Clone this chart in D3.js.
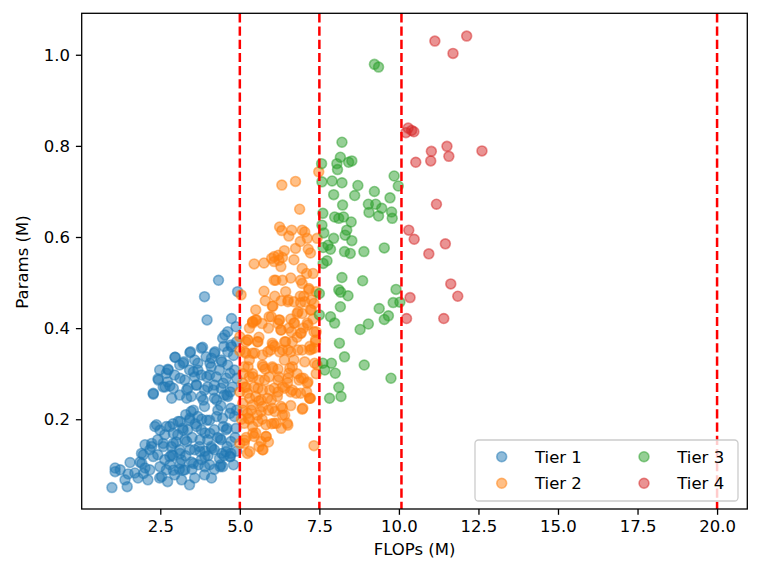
<!DOCTYPE html>
<html>
<head>
  <meta charset="utf-8">
  <script src="https://d3js.org/d3.v7.min.js"></script>
  <style>
    body { margin: 0; background: #FFFFFF; }
    text { font-family: "DejaVu Sans", sans-serif; }
  </style>
</head>
<body>
  <svg id="tiers" width="761" height="580" style="background: #FFFFFF;"></svg>

  <script>
    // [FLOPs (M), Params (M)]
    const tier1 = [
      [4.33,0.505],[3.89,0.469],[4.93,0.480],[3.97,0.418],[4.74,0.421],[4.88,0.403],[4.62,0.392],
      [4.46,0.378],[4.72,0.363],[3.79,0.356],[3.45,0.348],[4.20,0.345],[4.62,0.348],[3.94,0.337],
      [2.97,0.336],[4.41,0.330],[3.24,0.326],[3.68,0.323],[4.10,0.315],[4.62,0.319],[2.74,0.310],
      [2.69,0.301],[3.68,0.308],[4.83,0.308],[3.79,0.297],[4.26,0.293],[3.58,0.293],[4.57,0.290],
      [2.43,0.289],[3.63,0.275],[2.80,0.273],[2.59,0.271],[3.99,0.271],[4.41,0.268],[4.77,0.271],
      [3.37,0.268],[2.28,0.255],[3.47,0.250],[3.79,0.250],[4.20,0.246],[4.62,0.250],[3.89,0.228],
      [4.31,0.220],[4.72,0.224],[3.47,0.217],[3.68,0.206],[4.05,0.198],[4.46,0.202],[4.83,0.206],
      [3.42,0.198],[3.06,0.195],[2.38,0.188],[2.69,0.184],[3.79,0.177],[4.20,0.177],[4.57,0.177],
      [4.88,0.180],[3.36,0.177],[2.64,0.166],[3.05,0.166],[3.99,0.155],[4.41,0.155],[4.72,0.151],
      [3.27,0.155],[2.42,0.155],[2.23,0.147],[2.02,0.144],[3.73,0.140],[2.85,0.140],[3.11,0.133],
      [2.17,0.133],[4.20,0.133],[4.57,0.129],[3.58,0.133],[1.91,0.125],[4.72,0.125],[2.42,0.122],
      [2.86,0.122],[4.70,0.118],[4.36,0.114],[2.64,0.111],[3.16,0.111],[3.79,0.111],[1.86,0.106],
      [3.48,0.106],[1.55,0.105],[4.05,0.100],[4.46,0.096],[1.08,0.093],[2.02,0.093],[2.69,0.089],
      [1.24,0.089],[2.17,0.089],[3.27,0.089],[1.08,0.085],[1.70,0.082],[1.49,0.080],[2.95,0.078],
      [3.89,0.078],[2.48,0.071],[1.80,0.071],[3.58,0.071],[4.11,0.071],[2.11,0.067],[3.17,0.067],
      [1.39,0.067],[2.73,0.063],[3.42,0.056],[0.98,0.050],[1.46,0.052],
      [2.95,0.297],[3.11,0.319],[3.27,0.286],[3.42,0.308],[3.58,0.330],[4.05,0.297],[4.36,0.308],
      [4.11,0.334],[3.11,0.253],[2.86,0.246],[3.89,0.264],[4.20,0.275],[4.51,0.253],[2.48,0.308],
      [2.73,0.282],[2.90,0.190],[3.20,0.180],[3.50,0.160],[3.90,0.170],[4.30,0.160],[4.60,0.140],
      [4.90,0.130],[3.00,0.150],[3.30,0.120],[3.70,0.100],[4.00,0.120],[4.40,0.100],[4.80,0.100],
      [2.60,0.140],[2.80,0.100],[3.10,0.090],[3.50,0.090],[4.20,0.090],[3.90,0.130],[4.60,0.180],
      [4.90,0.220],[4.70,0.260],[4.90,0.290],[4.80,0.340],[4.50,0.360],[4.90,0.370],[4.40,0.230],
      [3.80,0.200],[3.30,0.210],[2.90,0.120],[3.60,0.190],[4.10,0.140],[4.50,0.120],[4.85,0.160],
      [2.96,0.336],[3.43,0.346],[3.83,0.358],[4.22,0.348],[4.53,0.385],[4.74,0.359],[4.43,0.326],
      [4.06,0.323],[3.22,0.323],[2.75,0.308],[2.44,0.286],[2.28,0.257],[2.65,0.271],[2.91,0.268],
      [3.33,0.264],[3.64,0.275],[3.33,0.246],[3.85,0.242],[4.27,0.242],[4.59,0.253],[4.69,0.301],
      [4.48,0.279],[3.96,0.293],[3.54,0.304],[3.12,0.290],[4.17,0.264],[3.54,0.220],[3.43,0.202],
      [3.12,0.195],[2.80,0.184],[2.33,0.184],[2.49,0.176],[2.91,0.169],[3.22,0.176],[3.64,0.184],
      [3.96,0.198],[4.27,0.206],[4.48,0.184],[4.69,0.213],[4.06,0.169],[4.38,0.158],[3.75,0.155],
      [3.33,0.151],[2.91,0.147],[2.59,0.147],[2.23,0.140],[1.97,0.122],[1.92,0.103],[1.97,0.081],
      [2.28,0.118],[2.49,0.096],[2.54,0.074],[2.80,0.118],[3.12,0.125],[3.43,0.133],[3.75,0.129],
      [4.12,0.136],[4.43,0.125],[4.69,0.118],[4.38,0.096],[3.90,0.096],[3.54,0.103],[3.12,0.103],
      [2.91,0.088],[3.90,0.118],[3.22,0.088]
    ];

    const tier2 = [
      [6.32,0.714],[6.75,0.722],[7.48,0.743],[6.88,0.661],[6.25,0.622],[6.32,0.614],[6.63,0.615],
      [6.54,0.602],[6.96,0.615],[7.04,0.611],[7.12,0.597],[7.43,0.597],[6.75,0.575],[7.15,0.573],
      [7.22,0.565],[6.08,0.557],[6.21,0.560],[6.23,0.549],[6.34,0.555],[6.00,0.553],[5.45,0.541],
      [5.76,0.543],[6.29,0.535],[6.96,0.531],[6.13,0.505],[6.34,0.505],[6.91,0.505],[7.17,0.487],
      [5.76,0.481],[6.44,0.480],[6.52,0.462],[7.01,0.470],[7.25,0.462],[6.70,0.458],[6.91,0.456],
      [6.02,0.448],[7.22,0.440],[6.80,0.432],[5.92,0.425],[5.50,0.418],[5.40,0.411],[6.23,0.418],
      [6.70,0.411],[7.12,0.411],[6.29,0.396],[6.54,0.400],[6.91,0.389],[7.33,0.392],[6.44,0.370],
      [5.19,0.370],[5.55,0.370],[6.02,0.367],[6.65,0.370],[7.38,0.370],[5.97,0.352],[6.34,0.352],
      [6.60,0.348],[6.96,0.352],[7.25,0.354],[5.19,0.345],[5.40,0.345],[5.71,0.341],[7.04,0.326],
      [5.71,0.319],[6.02,0.315],[6.65,0.315],[5.14,0.315],[7.43,0.319],[5.30,0.293],[5.61,0.286],
      [5.92,0.293],[6.23,0.293],[6.54,0.301],[6.86,0.286],[7.12,0.279],[5.09,0.279],[5.45,0.271],
      [5.71,0.264],[6.08,0.268],[6.34,0.271],[6.65,0.264],[6.91,0.257],[7.19,0.246],[5.24,0.257],
      [5.50,0.250],[5.87,0.246],[6.18,0.250],[5.09,0.235],[5.40,0.231],[5.71,0.228],[6.02,0.224],
      [6.34,0.224],[6.96,0.222],[5.24,0.213],[5.55,0.209],[6.34,0.209],[6.49,0.191],[6.08,0.191],
      [5.82,0.188],[5.40,0.184],[5.14,0.191],[5.82,0.162],[5.45,0.162],[5.14,0.147],[5.71,0.133],
      [5.24,0.125],[7.33,0.142],
      [6.08,0.546],[6.08,0.505],[5.04,0.473],[5.40,0.414],[5.24,0.374],[6.96,0.498],[7.17,0.484],
      [7.33,0.454],[6.96,0.432],[7.38,0.374],[7.33,0.356],[7.22,0.246],
      [5.30,0.400],[5.60,0.380],[5.90,0.400],[6.10,0.360],[6.40,0.330],[6.70,0.330],[6.80,0.380],
      [7.00,0.400],[7.30,0.420],[5.40,0.300],[5.80,0.310],[6.20,0.310],[6.50,0.280],[6.80,0.300],
      [7.00,0.290],[7.40,0.300],[5.20,0.270],[5.60,0.240],[5.90,0.220],[6.20,0.260],[6.60,0.230],
      [7.10,0.260],[5.10,0.220],[5.30,0.200],[5.70,0.200],[6.00,0.190],[6.30,0.180],[5.50,0.170],
      [5.90,0.150],[5.20,0.160],[5.60,0.140],[6.60,0.260],[5.10,0.300],[5.30,0.330],[5.00,0.260],
      [5.05,0.200],[5.00,0.350],[6.90,0.470],[6.60,0.510],[6.30,0.460],[6.10,0.470],[5.50,0.440],
      [5.80,0.460],[7.40,0.480],[7.10,0.520],[6.70,0.550],[6.40,0.570],[7.30,0.520],[6.90,0.590],
      [6.60,0.420],[7.20,0.360],[6.20,0.410],[5.70,0.410],[5.00,0.147],[5.00,0.381],
      [6.04,0.448],[6.51,0.458],[7.04,0.458],[6.83,0.436],[7.25,0.440],[5.99,0.425],[5.41,0.414],
      [5.52,0.418],[6.25,0.418],[6.72,0.411],[7.14,0.407],[6.30,0.396],[6.62,0.392],[6.93,0.389],
      [7.40,0.392],[5.26,0.374],[5.57,0.370],[6.41,0.370],[6.04,0.363],[6.51,0.352],[6.83,0.352],
      [7.20,0.352],[5.15,0.348],[5.47,0.345],[5.88,0.348],[6.25,0.348],[7.35,0.323],[5.73,0.315],
      [6.04,0.312],[6.57,0.312],[6.93,0.290],[7.14,0.282],[5.26,0.315],[5.41,0.293],[5.78,0.286],
      [6.20,0.286],[6.51,0.290],[5.15,0.271],[5.57,0.268],[5.94,0.264],[6.41,0.268],[6.77,0.257],
      [7.20,0.246],[5.31,0.246],[5.67,0.242],[5.99,0.242],[6.98,0.224],[6.30,0.228],[5.36,0.220],
      [5.67,0.217],[6.10,0.217],[6.41,0.209],[5.26,0.202],[5.57,0.195],[6.15,0.191],[6.51,0.187],
      [5.41,0.169],[5.83,0.162],[5.15,0.154],[5.67,0.151],[5.31,0.129],[5.73,0.133]
    ];

    const tier3 = [
      [9.23,0.979],[9.36,0.973],[8.21,0.808],[8.16,0.775],[8.05,0.761],[8.52,0.767],[8.42,0.764],
      [7.57,0.761],[8.07,0.748],[7.58,0.721],[7.90,0.723],[8.21,0.719],[8.71,0.713],[7.95,0.693],
      [8.61,0.691],[9.23,0.700],[9.85,0.734],[9.98,0.712],[9.72,0.686],[9.04,0.672],[9.27,0.672],
      [9.46,0.663],[9.06,0.654],[9.36,0.646],[9.77,0.655],[9.79,0.641],[8.23,0.670],[7.61,0.652],
      [8.11,0.641],[8.26,0.644],[8.50,0.633],[7.98,0.644],[7.58,0.626],[8.36,0.615],[7.95,0.597],
      [8.31,0.604],[8.52,0.592],[7.77,0.582],[7.85,0.573],[8.29,0.568],[8.47,0.564],[8.90,0.568],
      [9.54,0.576],[7.74,0.548],[7.62,0.542],[8.21,0.511],[8.86,0.504],[8.11,0.484],[8.17,0.479],
      [8.40,0.471],[7.50,0.476],[8.16,0.447],[9.91,0.485],[9.82,0.456],[10.03,0.457],[9.38,0.443],
      [9.67,0.427],[9.54,0.419],[7.85,0.425],[7.50,0.429],[7.98,0.411],[9.04,0.409],[8.78,0.397],
      [8.13,0.367],[8.29,0.337],[8.91,0.319],[7.88,0.323],[7.67,0.308],[8.00,0.301],[9.75,0.290],
      [8.11,0.270],[7.82,0.246],[8.18,0.250],[7.64,0.609],[7.62,0.577],[7.61,0.323]
    ];

    const tier4 = [
      [11.13,1.030],[12.13,1.041],[11.70,1.003],[10.29,0.839],[10.40,0.834],[10.47,0.831],
      [10.22,0.829],[11.02,0.788],[11.51,0.799],[11.57,0.777],[11.00,0.767],[10.53,0.764],
      [12.61,0.789],[11.18,0.672],[10.31,0.615],[10.48,0.595],[11.46,0.585],[10.94,0.563],
      [11.63,0.497],[11.85,0.470],[10.35,0.467],[10.24,0.421],[11.41,0.421]
    ];

    const tierNames = ["Tier 1", "Tier 2", "Tier 3", "Tier 4"];
    const tierColors = ["#1f77b4", "#ff7f0e", "#2ca02c", "#d62728"];
    const cutoffs = [5.0, 7.5, 10.08, 20.0];
    const xTicks = [2.5, 5.0, 7.5, 10.0, 12.5, 15.0, 17.5, 20.0];
    const yTicks = [0.2, 0.4, 0.6, 0.8, 1.0];

    const svg = d3.select("svg#tiers");
    const margin = { "top": 13.3, "right": 13.7, "bottom": 71, "left": 81.7 };
    const width = +svg.attr("width");
    const height = +svg.attr("height");
    const chartWidth = width - margin.left - margin.right;
    const chartHeight = height - margin.top - margin.bottom;

    const xScale = d3.scaleLinear().domain([0.03, 20.95]).range([0, chartWidth]);
    const yScale = d3.scaleLinear().domain([0.003, 1.091]).range([chartHeight, 0]);

    let chartArea = svg.append("g")
      .attr("transform", "translate(" + margin.left + "," + margin.top + ")");

    let clip = svg.append("defs").append("clipPath").attr("id", "plotclip")
      .append("rect").attr("width", chartWidth).attr("height", chartHeight);

    let pointLayer = chartArea.append("g").attr("clip-path", "url(#plotclip)");

    [tier1, tier2, tier3, tier4].forEach((tier, i) => {
      pointLayer.append("g").selectAll("circle").data(tier)
        .join("circle")
        .attr("cx", d => xScale(d[0]))
        .attr("cy", d => yScale(d[1]))
        .attr("r", 4.95)
        .attr("fill", tierColors[i])
        .attr("fill-opacity", 0.5)
        .attr("stroke", tierColors[i])
        .attr("stroke-opacity", 0.5)
        .attr("stroke-width", 1.6);
    });

    // threshold lines
    chartArea.append("g").selectAll("line").data(cutoffs)
      .join("line")
      .attr("x1", d => xScale(d)).attr("x2", d => xScale(d))
      .attr("y1", 0).attr("y2", chartHeight)
      .attr("stroke", "red")
      .attr("stroke-width", 2.5)
      .attr("stroke-dasharray", "9.2,4");

    let bottomAxis = d3.axisBottom(xScale)
      .tickValues(xTicks)
      .tickFormat(d3.format(".1f"))
      .tickSize(5.8)
      .tickPadding(5.2);

    let leftAxis = d3.axisLeft(yScale)
      .tickValues(yTicks)
      .tickFormat(d3.format(".1f"))
      .tickSize(5.8)
      .tickPadding(5.8);

    let xAxisG = chartArea.append("g")
      .attr("transform", "translate(0," + chartHeight + ")")
      .call(bottomAxis);
    let yAxisG = chartArea.append("g").call(leftAxis);

    [xAxisG, yAxisG].forEach(g => {
      g.select(".domain").remove();
      g.selectAll(".tick line").attr("stroke", "#000").attr("stroke-width", 1.3);
      g.selectAll(".tick text")
        .attr("fill", "#000")
        .style("font-size", "16.5px")
        .style("font-family", "'DejaVu Sans', sans-serif");
    });

    chartArea.append("rect")
      .attr("width", chartWidth)
      .attr("height", chartHeight)
      .attr("fill", "none")
      .attr("stroke", "#000")
      .attr("stroke-width", 1.3);

    svg.append("text")
      .attr("x", margin.left + chartWidth / 2)
      .attr("y", 555)
      .attr("text-anchor", "middle")
      .style("font-size", "16.5px")
      .text("FLOPs (M)");

    svg.append("text")
      .attr("transform", "translate(28,262) rotate(-90)")
      .attr("text-anchor", "middle")
      .style("font-size", "16.5px")
      .text("Params (M)");

    // legend, two columns
    let legend = svg.append("g").attr("transform", "translate(475,440)");
    legend.append("rect")
      .attr("width", 263)
      .attr("height", 61)
      .attr("rx", 3.5)
      .attr("fill", "#fff")
      .attr("fill-opacity", 0.8)
      .attr("stroke", "#cccccc")
      .attr("stroke-width", 1.3);

    let items = legend.selectAll("g.item").data(tierNames)
      .join("g")
      .attr("class", "item")
      .attr("transform", (d, i) => "translate(" + (Math.floor(i / 2) * 142.3) + "," + (i % 2 * 26.6) + ")");

    items.append("circle")
      .attr("cx", 26.7)
      .attr("cy", 16.7)
      .attr("r", 4.95)
      .attr("fill", (d, i) => tierColors[i])
      .attr("fill-opacity", 0.5)
      .attr("stroke", (d, i) => tierColors[i])
      .attr("stroke-opacity", 0.5)
      .attr("stroke-width", 1.6);

    items.append("text")
      .attr("x", 60)
      .attr("y", 22.6)
      .style("font-size", "16.5px")
      .text(d => d);
  </script>
</body>
</html>
